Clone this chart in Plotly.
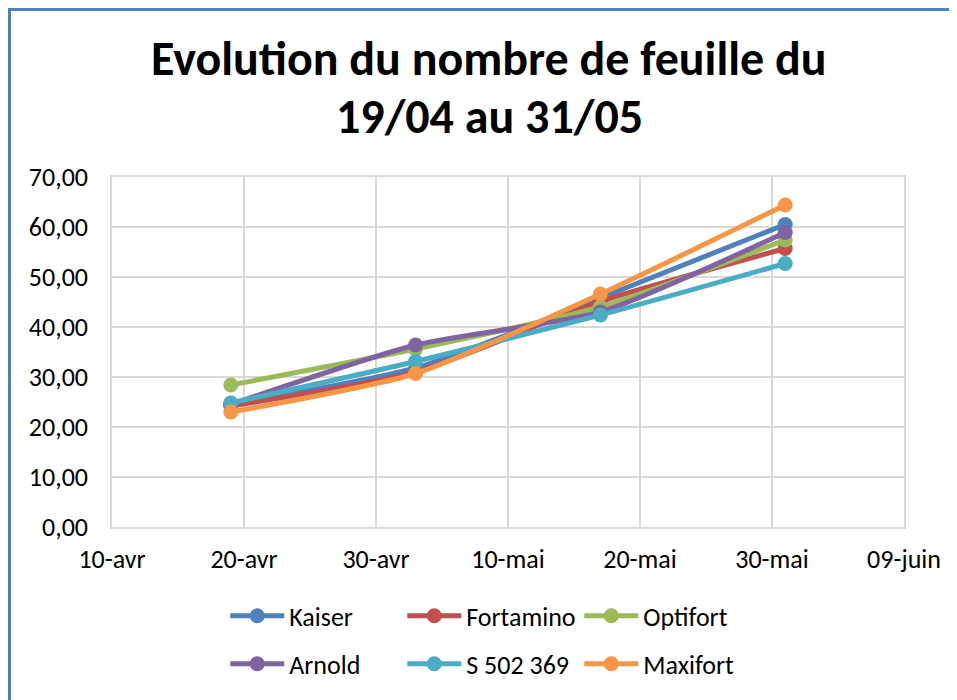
import plotly.graph_objects as go

dates = ["2016-04-19", "2016-05-03", "2016-05-17", "2016-05-31"]
series_names = ["Kaiser", "Fortamino", "Optifort", "Arnold", "S 502 369", "Maxifort"]
kaiser = [24.5, 31.8, 45.8, 60.5]
fortamino = [24.2, 31.0, 45.1, 55.7]
optifort = [28.4, 35.6, 44.0, 57.4]
arnold = [24.5, 36.4, 43.0, 58.9]
s502369 = [24.8, 33.1, 42.4, 52.7]
maxifort = [23.0, 30.7, 46.6, 64.4]
series_values = [kaiser, fortamino, optifort, arnold, s502369, maxifort]
colors = ["#4F81BD", "#C0504D", "#9BBB59", "#8064A2", "#4BACC6", "#F79646"]

x_tickvals = ["2016-04-10", "2016-04-20", "2016-04-30", "2016-05-10", "2016-05-20", "2016-05-30", "2016-06-09"]
x_ticktext = ["10-avr", "20-avr", "30-avr", "10-mai", "20-mai", "30-mai", "09-juin"]
y_tickvals = [0, 10, 20, 30, 40, 50, 60, 70]

FONT = "Calibri, Carlito, Lato, sans-serif"

fig = go.Figure()
for i, (name, vals, col) in enumerate(zip(series_names, series_values, colors)):
    fig.add_trace(go.Scatter(
        x=dates, y=vals, name=name, mode="lines+markers",
        line=dict(color=col, width=5, shape="spline", smoothing=0.6),
        marker=dict(color=col, size=15),
        legend="legend" if i < 3 else "legend2",
    ))

legend_common = dict(
    orientation="h", xanchor="left", yanchor="middle",
    font=dict(family=FONT, size=26, color="#000000"),
    itemwidth=54, entrywidth=108, entrywidthmode="pixels",
    bgcolor="rgba(0,0,0,0)", tracegroupgap=0, itemclick=False,
)

# page offset of 8px (body margin) compensated in margins
fig.update_layout(
    width=957, height=700,
    margin=dict(l=104, r=61, t=169, b=181, autoexpand=False),
    paper_bgcolor="white", plot_bgcolor="white",
    separators=", ",
    font=dict(family=FONT, color="#000000"),
    showlegend=True,
    legend=dict(x=0.143, y=-0.254, **legend_common),
    legend2=dict(x=0.143, y=-0.391, **legend_common),
    xaxis=dict(
        type="date", range=["2016-04-10", "2016-06-09"],
        tickmode="array", tickvals=x_tickvals, ticktext=x_ticktext,
        showgrid=True, gridcolor="#D9D9D9", gridwidth=1.5,
        showline=True, linecolor="#D9D9D9", linewidth=1.5, mirror=True,
        ticks="", ticklabelstandoff=8,
        tickfont=dict(family=FONT, size=26, color="#000000"),
        zeroline=False,
    ),
    yaxis=dict(
        range=[0, 70], tickmode="array", tickvals=y_tickvals, tickformat=".2f",
        showgrid=True, gridcolor="#D9D9D9", gridwidth=1.5,
        showline=True, linecolor="#D9D9D9", linewidth=1.5, mirror=True,
        ticks="", ticklabelstandoff=17,
        tickfont=dict(family=FONT, size=26, color="#000000"),
        zeroline=False,
    ),
    annotations=[
        dict(text="<b>Evolution du nombre de feuille du</b>", xref="paper", yref="paper",
             x=(489 - 112) / 792, y=(527 - 59) / 350, xanchor="center", yanchor="middle", showarrow=False,
             font=dict(family=FONT, size=48, color="#000000")),
        dict(text="<b>19/04 au 31/05</b>", xref="paper", yref="paper",
             x=(489 - 112) / 792, y=(527 - 117) / 350, xanchor="center", yanchor="middle", showarrow=False,
             font=dict(family=FONT, size=48, color="#000000")),
    ],
    shapes=[
        dict(type="line", xref="paper", yref="paper", x0=(9.5 - 112) / 792, x1=(9.5 - 112) / 792,
             y0=(527 - 8) / 350, y1=(527 - 720) / 350, line=dict(color="#4F81BD", width=3)),
        dict(type="line", xref="paper", yref="paper", x0=(8 - 112) / 792, x1=(970 - 112) / 792,
             y0=(527 - 9.5) / 350, y1=(527 - 9.5) / 350, line=dict(color="#4F81BD", width=3)),
    ],
)

fig.write_html("out.html")
